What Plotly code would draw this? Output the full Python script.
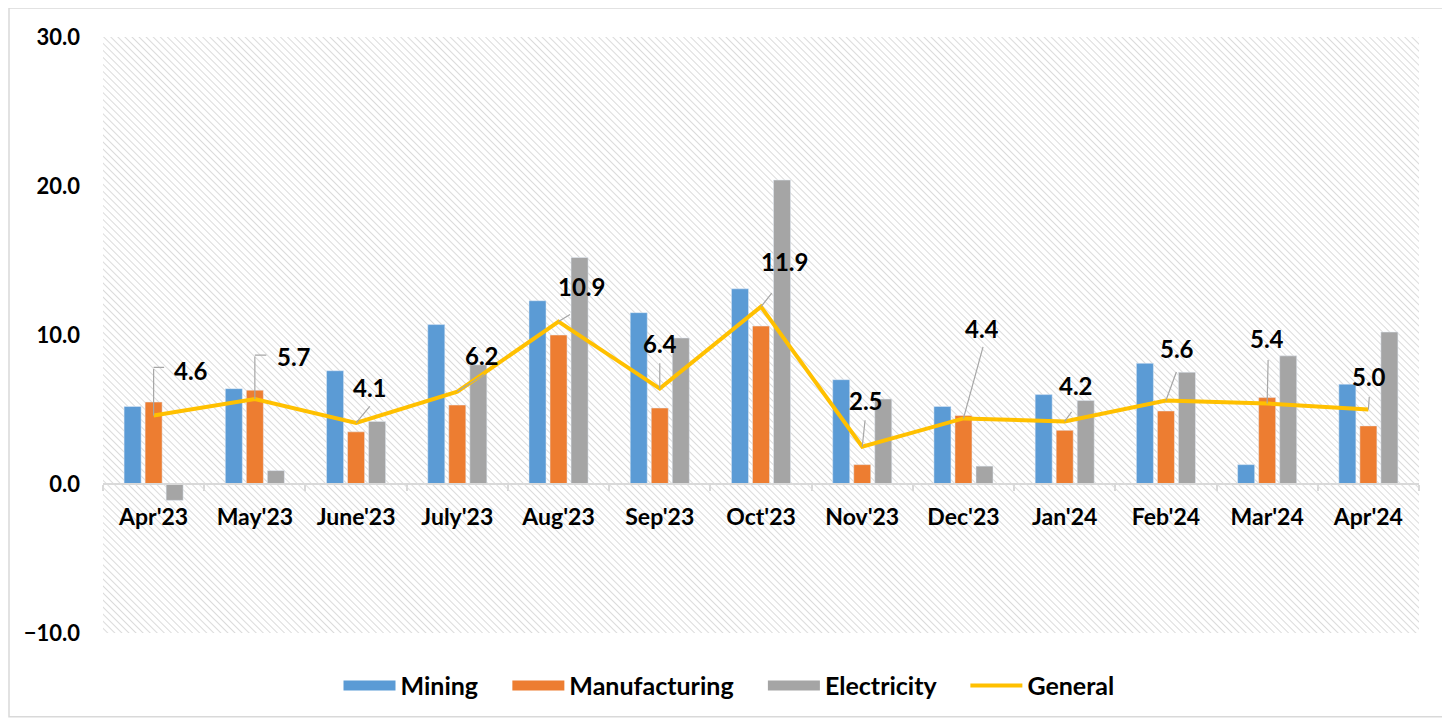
import base64
import plotly.graph_objects as go

# ---------------- data ----------------
months = ["Apr'23", "May'23", "June'23", "July'23", "Aug'23", "Sep'23", "Oct'23",
          "Nov'23", "Dec'23", "Jan'24", "Feb'24", "Mar'24", "Apr'24"]
mining = [5.2, 6.4, 7.6, 10.7, 12.3, 11.5, 13.1, 7.0, 5.2, 6.0, 8.1, 1.3, 6.7]
manufacturing = [5.5, 6.3, 3.5, 5.3, 10.0, 5.1, 10.6, 1.3, 4.6, 3.6, 4.9, 5.8, 3.9]
electricity = [-1.1, 0.9, 4.2, 8.0, 15.2, 9.8, 20.4, 5.7, 1.2, 5.6, 7.5, 8.6, 10.2]
general = [4.6, 5.7, 4.1, 6.2, 10.9, 6.4, 11.9, 2.5, 4.4, 4.2, 5.6, 5.4, 5.0]

# label placement (pixel offsets from the General point): text offset, leader end
label_dx = [37, 39, 14, 25, 23, 0, 23, 4, 19, 11, 11, 0, 1]
label_dy = [-45, -43, -35, -36, -35, -45, -45, -46, -90, -36, -52, -65, -33]
leader_dx = [0, 0, 15, 28, 13, 0, 12, 3, 20, 8, 11, 1, 1]
leader_dy = [-48, -44, -18, -18, -8, -27, -15, -28, -73, -11, -30, -45, -14]
elbow_dx = [12, 13, 0, 0, 0, 0, 0, 0, 0, 0, 0, 0, 0]

# ---------------- layout geometry ----------------
# the page body has an 8px margin, so the figure starts at (8, 8)
OFF = 8
W, H = 1450 - OFF, 721 - OFF
ML, MR, MT, MB = 103 - OFF, 31, 37 - OFF, 86
PW, PH = W - ML - MR, H - MT - MB

FONT = "Lato"
BLUE, ORANGE, GRAY, GOLD = "#5B9BD5", "#ED7D31", "#A5A5A5", "#FFC000"
LEADER = "#A6A6A6"
PAD = "\u00a0" * 4  # spacing after legend entries

# hatched plot-area background as an inline SVG image
svg = (
    f'<svg xmlns="http://www.w3.org/2000/svg" width="{PW}" height="{PH}">'
    '<defs><pattern id="h" width="5" height="5" patternUnits="userSpaceOnUse" '
    'patternTransform="rotate(-45)">'
    '<line x1="0" y1="0" x2="0" y2="5" stroke="#D2D2D2" stroke-width="1.6"/>'
    '</pattern></defs>'
    f'<rect width="{PW}" height="{PH}" fill="white"/>'
    f'<rect width="{PW}" height="{PH}" fill="url(#h)"/></svg>'
)
svg_uri = "data:image/svg+xml;base64," + base64.b64encode(svg.encode()).decode()

fig = go.Figure()
series = [("Mining", mining, BLUE), ("Manufacturing", manufacturing, ORANGE),
          ("Electricity", electricity, GRAY)]
for name, vals, col in series:
    fig.add_trace(go.Bar(name=name, x=months, y=vals, marker_color=col,
                         legendgroup=name, showlegend=False))
    # wide rectangular legend swatch (legend-only entry, no data)
    fig.add_trace(go.Scatter(name=name + PAD, x=[None], y=[None], mode="lines",
                             line=dict(color=col, width=15), legendgroup=name,
                             hoverinfo="skip"))
fig.add_trace(go.Scatter(name="General", x=months, y=general, mode="lines",
                         line=dict(color=GOLD, width=4)))

annotations = []
for i, (m, g) in enumerate(zip(months, general)):
    annotations.append(dict(x=m, y=g, xref="x", yref="y", text="", showarrow=True,
                            arrowhead=0, arrowwidth=1.2, arrowcolor=LEADER, standoff=0,
                            ax=leader_dx[i], ay=leader_dy[i]))
    if elbow_dx[i]:
        annotations.append(dict(x=m, y=g, xref="x", yref="y", text="", showarrow=True,
                                arrowhead=0, arrowwidth=1.2, arrowcolor=LEADER, standoff=0,
                                yshift=-leader_dy[i], ax=elbow_dx[i], ay=0))
    annotations.append(dict(x=m, y=g, xref="x", yref="y", text=f"{g:.1f}", showarrow=False,
                            xshift=label_dx[i], yshift=-label_dy[i],
                            font=dict(family=FONT, size=24, color="black", weight="bold")))

fig.update_layout(
    width=W, height=H,
    margin=dict(l=ML, r=MR, t=MT, b=MB),
    paper_bgcolor="white", plot_bgcolor="white",
    barmode="group", bargap=0.377, bargroupgap=0.19,
    font=dict(family=FONT, color="black"),
    xaxis=dict(range=[-0.5, 12.5], anchor="free", position=0.25,
               showline=True, linecolor="#D9D9D9", linewidth=2,
               ticks="outside", tickson="boundaries", ticklen=6, tickcolor="#D9D9D9",
               tickwidth=1.5, showgrid=False, ticklabelstandoff=12,
               tickfont=dict(family=FONT, size=23, color="black", weight="bold")),
    yaxis=dict(range=[-10, 30], dtick=10, tickformat=".1f", showgrid=False,
               zeroline=False, showline=False, ticks="", ticklabelstandoff=22,
               tickfont=dict(family=FONT, size=22, color="black", weight="bold")),
    legend=dict(orientation="h", x=(729 - 103) / PW, xanchor="center", y=-53 / PH,
                yanchor="middle",
                font=dict(family=FONT, size=25, color="black", weight="bold"),
                itemwidth=52, tracegroupgap=0, traceorder="normal"),
    images=[dict(source=svg_uri, xref="paper", yref="paper", x=0, y=1, sizex=1, sizey=1,
                 xanchor="left", yanchor="top", sizing="stretch", layer="below")],
    shapes=[dict(type="rect", xref="paper", yref="paper",
                 x0=(9 - 103) / PW, x1=(1448 - 103) / PW,
                 y0=(635 - 719) / PH, y1=(635 - 8) / PH,
                 line=dict(color="#D9D9D9", width=1.5), fillcolor="rgba(0,0,0,0)",
                 layer="below")],
    annotations=annotations,
    showlegend=True,
)

fig.write_html("out.html")
